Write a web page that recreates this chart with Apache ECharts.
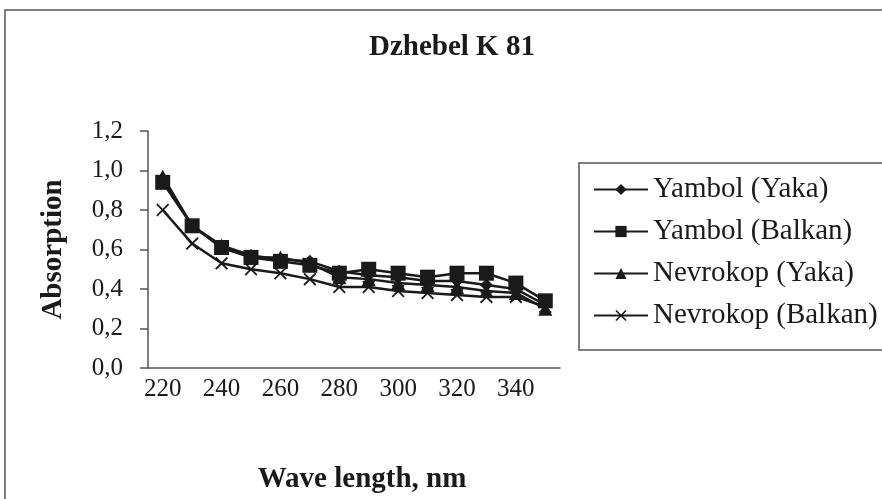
<!DOCTYPE html>
<html><head><meta charset="utf-8">
<script src="https://cdn.jsdelivr.net/npm/echarts@6/dist/echarts.min.js"></script>
<style>html,body{margin:0;padding:0;background:#fff}#c{width:882px;height:499px}</style>
</head><body><div id="c"></div>
<script>
var categories = ['220','230','240','250','260','270','280','290','300','310','320','330','340','350'];
var yambolYaka = [0.96,0.72,0.62,0.57,0.55,0.54,0.49,0.47,0.46,0.44,0.44,0.42,0.40,0.32];
var yambolBalkan = [0.94,0.72,0.61,0.56,0.54,0.52,0.48,0.50,0.48,0.46,0.48,0.48,0.43,0.34];
var nevrokopYaka = [0.97,0.72,0.61,0.56,0.56,0.53,0.46,0.45,0.43,0.42,0.41,0.39,0.38,0.30];
var nevrokopBalkan = [0.80,0.63,0.53,0.50,0.48,0.45,0.41,0.41,0.39,0.38,0.37,0.36,0.36,0.31];
var seriesNames = ['Yambol (Yaka)','Yambol (Balkan)','Nevrokop (Yaka)','Nevrokop (Balkan)'];

var ink = '#1a1a1a';
var font = '"Liberation Serif","Times New Roman",serif';
var xPath = 'path://M0,1L1,0L5,4L9,0L10,1L6,5L10,9L9,10L5,6L1,10L0,9L4,5Z';
function mk(name, data, symbol, size) {
  return {name:name, type:'line', data:data, symbol:symbol, symbolSize:size,
    lineStyle:{color:ink,width:2.5}, itemStyle:{color:ink}, animation:false};
}
var chart = echarts.init(document.getElementById('c'));
chart.setOption({
  animation:false,
  title:{text:'Dzhebel K 81', left:364, top:28, textStyle:{fontFamily:font,fontWeight:'bold',fontSize:29,color:ink}},
  grid:{left:148, right:322, top:131, bottom:131},
  legend:{orient:'vertical', left:588, top:170, itemWidth:54, itemHeight:14, itemGap:13,
    textStyle:{fontFamily:font,fontSize:29,lineHeight:29,color:ink}, data:seriesNames},
  graphic:[
    {type:'rect', shape:{x:5,y:10,width:900,height:520}, style:{fill:'none',stroke:'#555',lineWidth:1.5}, silent:true},
    {type:'rect', shape:{x:579,y:163,width:320,height:187}, style:{fill:'none',stroke:'#555',lineWidth:1.5}, silent:true}
  ],
  xAxis:{type:'category', data:categories, boundaryGap:true,
    name:'Wave length, nm', nameLocation:'middle', nameGap:97,
    nameTextStyle:{fontFamily:font,fontWeight:'bold',fontSize:29,color:ink,padding:[0,0,0,16]},
    axisLine:{lineStyle:{color:'#555',width:1.5}},
    axisTick:{interval:0, length:8, lineStyle:{color:'#555',width:1.5}},
    axisLabel:{interval:1, margin:9, fontFamily:font, fontSize:25, color:ink},
    splitLine:{show:false}},
  yAxis:{type:'value', min:0, max:1.2, interval:0.2,
    name:'Absorption', nameLocation:'middle', nameGap:80, nameRotate:90, nameMoveOverlap:false,
    nameTextStyle:{fontFamily:font,fontWeight:'bold',fontSize:29,color:ink},
    axisLine:{show:true, lineStyle:{color:'#555',width:1.5}},
    axisTick:{show:true, length:8, lineStyle:{color:'#555',width:1.5}},
    axisLabel:{margin:25, fontFamily:font, fontSize:25, color:ink,
      formatter:function(v){return v.toFixed(1).replace('.',',');}},
    splitLine:{show:false}},
  series:[
    mk(seriesNames[0], yambolYaka, 'diamond', 13),
    mk(seriesNames[1], yambolBalkan, 'rect', 15),
    mk(seriesNames[2], nevrokopYaka, 'triangle', 14),
    mk(seriesNames[3], nevrokopBalkan, xPath, 13)
  ]
});
</script></body></html>
